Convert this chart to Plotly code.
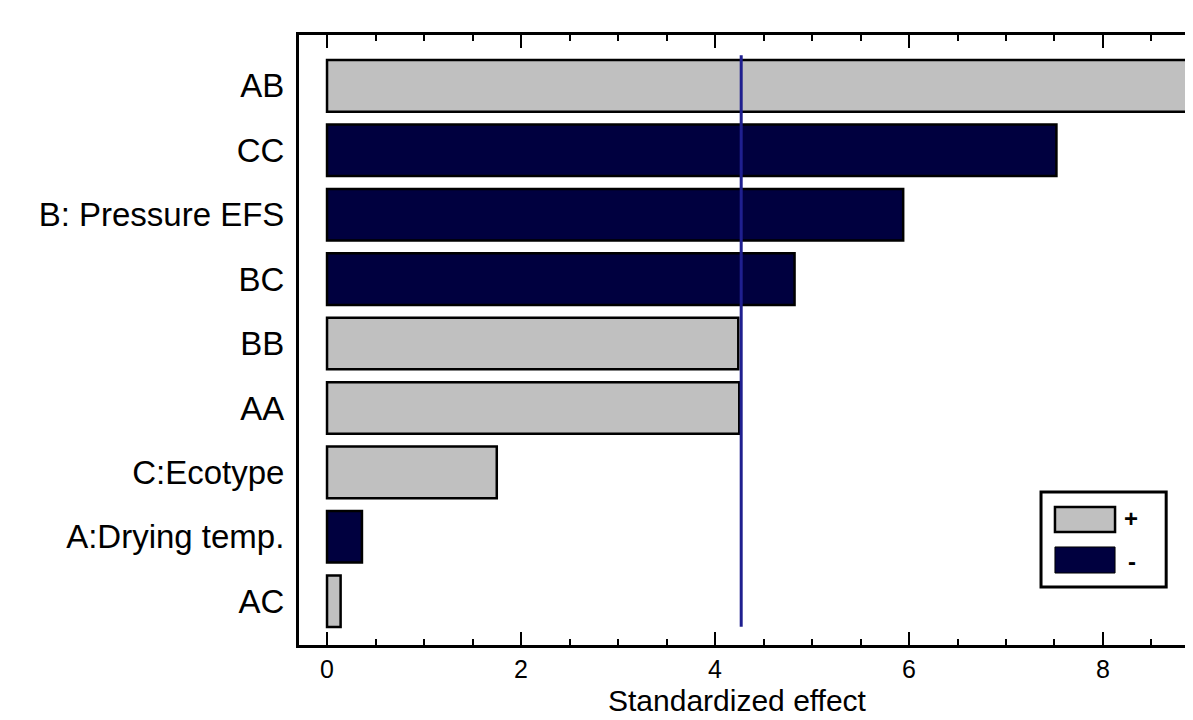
import plotly.graph_objects as go

# Data (bottom to top order for the y axis)
factors = ["AC", "A:Drying temp.", "C:Ecotype", "AA", "BB", "BC", "B: Pressure EFS", "CC", "AB"]
effects = [0.14, 0.36, 1.75, 4.25, 4.24, 4.82, 5.94, 7.52, 9.3]
signs = ["+", "-", "+", "+", "+", "-", "-", "-", "+"]
critical_value = 4.27
x_ticks = [0, 2, 4, 6, 8]

POS_COLOR = "#c0c0c0"
NEG_COLOR = "#00003f"
FONT = "Liberation Sans, Arial, sans-serif"

fig = go.Figure()
pos_x = [e if s == "+" else None for e, s in zip(effects, signs)]
neg_x = [e if s == "-" else None for e, s in zip(effects, signs)]
fig.add_trace(go.Bar(y=factors, x=pos_x, orientation="h", name="+",
                     marker=dict(color=POS_COLOR, line=dict(color="black", width=2.5)),
                     width=0.8, showlegend=False))
fig.add_trace(go.Bar(y=factors, x=neg_x, orientation="h", name="-",
                     marker=dict(color=NEG_COLOR, line=dict(color="black", width=2.5)),
                     width=0.8, showlegend=False))

# critical line
fig.add_shape(type="line", xref="x", yref="paper", x0=critical_value, x1=critical_value,
              y0=0.03, y1=0.967, line=dict(color="#1f1f8f", width=3), layer="above")

# legend drawn manually
fig.add_shape(type="rect", xref="paper", yref="paper", x0=0.830, x1=0.970, y0=0.095, y1=0.251,
              line=dict(color="black", width=3), fillcolor="white", layer="above")
fig.add_shape(type="rect", xref="paper", yref="paper", x0=0.8456, x1=0.9128, y0=0.1852, y1=0.2262,
              line=dict(color="black", width=2.5), fillcolor=POS_COLOR, layer="above")
fig.add_shape(type="rect", xref="paper", yref="paper", x0=0.8456, x1=0.9128, y0=0.118, y1=0.1607,
              line=dict(color="black", width=1), fillcolor=NEG_COLOR, layer="above")
fig.add_annotation(xref="paper", yref="paper", x=0.9407, y=0.2066, text="<b>+</b>", showarrow=False,
                   yanchor="middle", font=dict(size=24, color="black", family=FONT))
fig.add_annotation(xref="paper", yref="paper", x=0.9385, y=0.1377, text="<b>-</b>", showarrow=False,
                   yanchor="middle", font=dict(size=24, color="black", family=FONT))

# x axis title
fig.add_annotation(xref="paper", yref="paper", x=0.491, y=-0.06, text="Standardized effect",
                   showarrow=False, xanchor="center", yanchor="top",
                   font=dict(size=30, color="black", family=FONT))

fig.update_layout(
    width=1185, height=712,
    margin=dict(l=291, r=0, t=27, b=75),
    plot_bgcolor="white", paper_bgcolor="white",
    barmode="overlay",
    font=dict(family=FONT, color="black"),
    xaxis=dict(range=[-0.289, 8.928], tickvals=x_ticks, ticktext=[str(t) for t in x_ticks],
               ticks="inside", ticklen=13, tickwidth=2, tickcolor="black",
               minor=dict(dtick=0.5, tick0=0, ticks="inside", ticklen=6, tickwidth=2, tickcolor="black", showgrid=False),
               showline=True, linecolor="black", linewidth=3, mirror="ticks",
               showgrid=False, zeroline=False, automargin=False,
               tickfont=dict(size=25)),
    yaxis=dict(type="category", categoryorder="array", categoryarray=factors,
               range=[-0.68, 8.79], showline=True, linecolor="black", linewidth=3,
               ticks="", showgrid=False, zeroline=False, tickfont=dict(size=33),
               ticklabelstandoff=5, automargin=False),
)

fig.write_html("out.html")
